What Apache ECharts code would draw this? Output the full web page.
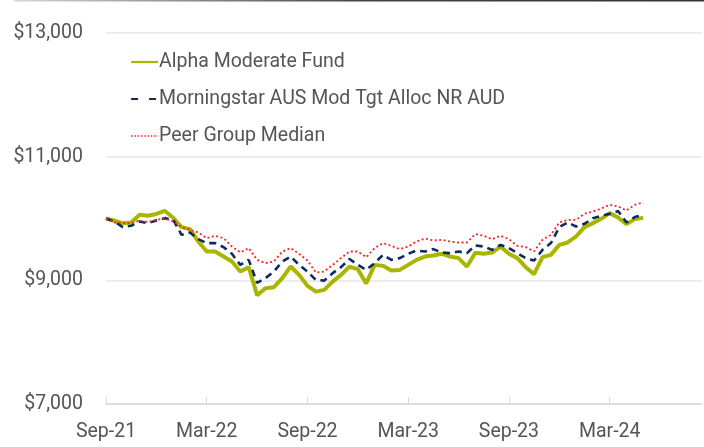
<!DOCTYPE html>
<html>
<head>
<meta charset="utf-8">
<script src="https://cdn.jsdelivr.net/npm/echarts@6/dist/echarts.min.js"></script>
<style>
html,body{margin:0;padding:0;background:#fff;}
#chart{width:704px;height:447px;}
</style>
</head>
<body>
<div id="chart"></div>
<script>
// Semi-monthly observation points starting Sep-21 (index 0), axis runs to Aug-24
const startYear = 2021, startMonth = 9, nPeriods = 72;
const monthNames = ["Jan","Feb","Mar","Apr","May","Jun","Jul","Aug","Sep","Oct","Nov","Dec"];
const categories = [];
for (let i = 0; i < nPeriods; i++) {
  const m = startMonth - 1 + Math.floor((i + 1) / 2);
  const y = startYear + Math.floor(m / 12);
  categories.push(monthNames[m % 12] + "-" + String(y).slice(2) + (i % 2 === 0 ? " end" : " mid"));
}
const tickLabels = ["Sep-21","Mar-22","Sep-22","Mar-23","Sep-23","Mar-24"];

const seriesNames = ["Alpha Moderate Fund","Morningstar AUS Mod Tgt Alloc NR AUD","Peer Group Median"];

const fundValues = [10000,9963,9925,9935,10060,10044,10074,10125,10011,9861,9828,9628,9466,9466,9385,
  9304,9142,9213,8760,8873,8889,9035,9223,9089,8910,8818,8846,8980,9089,9220,
  9181,8950,9250,9234,9158,9169,9250,9331,9385,9401,9429,9385,9359,9223,9445,
  9429,9450,9547,9429,9359,9213,9100,9375,9412,9574,9612,9709,9861,9925,9995,
  10087,10017,9909,9990,10010];

const benchmarkValues = [10000,9951,9861,9882,9951,9925,9968,10006,9979,9736,9773,9666,9601,9601,9537,
  9429,9250,9331,8960,9035,9142,9304,9385,9250,9142,9007,8996,9116,9213,9345,
  9250,9169,9278,9412,9331,9359,9429,9482,9466,9505,9450,9440,9466,9440,9565,
  9547,9493,9574,9521,9440,9359,9320,9493,9602,9861,9935,9870,9914,10006,10044,
  10076,10120,9935,10023,10060];

const peerValues = [10000,9935,9925,9925,9963,9942,9979,10000,9951,9861,9817,9773,9682,9720,9682,
  9547,9450,9521,9331,9278,9304,9466,9521,9429,9320,9126,9142,9250,9359,9466,
  9466,9375,9521,9602,9558,9505,9547,9628,9676,9644,9655,9628,9612,9612,9750,
  9720,9666,9720,9666,9558,9537,9470,9655,9736,9935,9979,9979,10076,10113,10162,
  10222,10194,10130,10222,10260];

const yMin = 7000, yMax = 13000, yStep = 2000;

const colors = ['#a8b600', '#0f2a5e', '#ff2222'];
const chart = echarts.init(document.getElementById('chart'), null, {renderer:'canvas'});
const font = 'Roboto, "DejaVu Sans", sans-serif';
chart.setOption({
  animation: false,
  backgroundColor: '#ffffff',
  graphic: [{
    type: 'line',
    shape: {x1: 14, y1: 0.5, x2: 704, y2: 0.5},
    style: {
      lineWidth: 2,
      stroke: new echarts.graphic.LinearGradient(0, 0, 1, 0, [
        {offset: 0, color: '#d8d8d8'}, {offset: 0.5, color: '#444'}, {offset: 1, color: '#333'}
      ])
    }
  }],
  grid: {left: 106, right: 2, top: 33, bottom: 43, containLabel: false},
  legend: {
    orient: 'vertical',
    left: 125,
    top: 47,
    itemWidth: 27,
    itemHeight: 14,
    itemGap: 17,
    itemStyle: {opacity: 0},
    textStyle: {fontFamily: font, fontSize: 19.5, color: '#555555', padding: [0,0,0,-4]},
    data: [
      {name: seriesNames[0], lineStyle: {width: 2.2, type: 'solid', color: colors[0]}},
      {name: seriesNames[1], lineStyle: {width: 2.2, type: [7, 11], color: colors[1]}},
      {name: seriesNames[2], lineStyle: {width: 1.3, type: [1.5, 1.8], color: colors[2]}}
    ]
  },
  xAxis: {
    type: 'category',
    data: categories,
    boundaryGap: false,
    axisLine: {lineStyle: {color: '#d9d9d9', width: 1.5}},
    axisTick: {show: true, inside: true, interval: 11, length: 7, lineStyle: {color: '#d9d9d9', width: 1}},
    axisLabel: {
      interval: 11,
      margin: 18,
      fontFamily: font, fontSize: 19.5, color: '#555555',
      formatter: function (v, i) { return tickLabels[i / 12] || ''; }
    },
    splitLine: {show: false}
  },
  yAxis: {
    type: 'value',
    min: yMin, max: yMax, interval: yStep,
    axisLine: {show: false},
    axisTick: {show: false},
    axisLabel: {
      margin: 23,
      fontFamily: font, fontSize: 19.5, color: '#555555',
      formatter: function (v) { return '$' + v.toLocaleString('en-US'); }
    },
    splitLine: {lineStyle: {color: '#e6e6e6', width: 1.5}}
  },
  series: [
    {
      name: seriesNames[0], type: 'line', data: fundValues, symbol: 'none', z: 2,
      lineStyle: {color: colors[0], width: 4}, itemStyle: {color: colors[0]}
    },
    {
      name: seriesNames[1], type: 'line', data: benchmarkValues, symbol: 'none', z: 3,
      lineStyle: {color: colors[1], width: 2.6, type: [7, 5]}, itemStyle: {color: colors[1]}
    },
    {
      name: seriesNames[2], type: 'line', data: peerValues, symbol: 'none', z: 4,
      lineStyle: {color: colors[2], width: 1.8, type: [2, 2.5]}, itemStyle: {color: colors[2]}
    }
  ]
});
</script>
</body>
</html>
